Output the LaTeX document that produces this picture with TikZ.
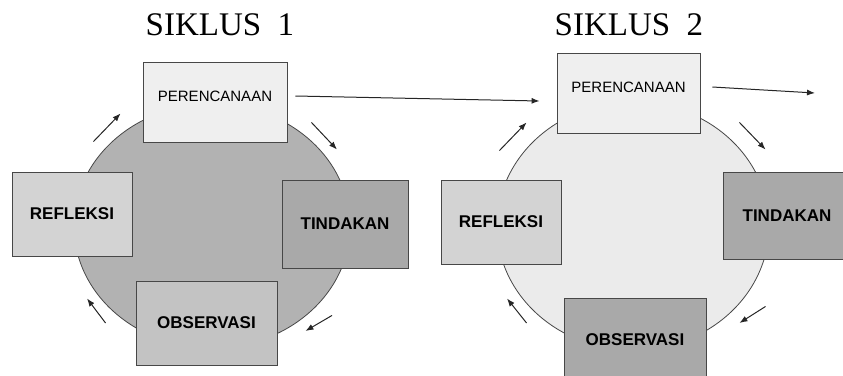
\documentclass[tikz,border=0pt]{standalone}
\usepackage{fontspec}
\setmainfont{Liberation Serif}
\setsansfont{Liberation Sans}
\usetikzlibrary{arrows.meta}

\definecolor{boxline}{HTML}{474747}
\definecolor{plancol}{HTML}{EFEFEF}
\definecolor{reflcol}{HTML}{D3D3D3}
\definecolor{tindcol}{HTML}{A9A9A9}
\definecolor{obscol}{HTML}{C3C3C3}
\definecolor{ringone}{HTML}{B2B2B2}
\definecolor{ringtwo}{HTML}{EBEBEB}

\begin{document}
\begin{tikzpicture}[x=1pt, y=-1pt,
    box/.style={draw=boxline, line width=0.9pt, inner sep=0pt, font=\sffamily\bfseries\fontsize{17}{20}\selectfont},
    planlabel/.style={font=\sffamily\fontsize{15}{18}\selectfont, yshift=6pt},
    flow/.style={-{Latex[length=8pt,width=6pt]}, line width=1pt, draw=black!85}]
    \useasboundingbox (0,0) rectangle (843,375);
    % siklus 1
    \node[font=\fontsize{33}{36}\selectfont] (title1) at (220,25) {SIKLUS~~1};
    \filldraw[draw=boxline, fill=ringone, line width=0.8pt] (212,226) ellipse [x radius=138pt, y radius=122pt];
    \node[box, fill=plancol, minimum width=144pt, minimum height=80pt, label={[planlabel]center:PERENCANAAN}] (plan1) at (215,102) {};
    \node[box, fill=reflcol, minimum width=120pt, minimum height=84pt] (refl1) at (72,214) {REFLEKSI};
    \node[box, fill=tindcol, minimum width=126pt, minimum height=88pt] (tind1) at (345,224) {TINDAKAN};
    \node[box, fill=obscol, minimum width=141pt, minimum height=84pt] (obs1) at (206.5,323) {OBSERVASI};
    \draw[flow] ([xshift=-39pt,yshift=30pt]refl1.north east) -- ([xshift=-22pt,yshift=29pt]plan1.south west);
    \draw[flow] ([xshift=24pt,yshift=20pt]plan1.south east) -- ([xshift=-8pt,yshift=30pt]tind1.north);
    \draw[flow] ([xshift=-13pt,yshift=-47pt]tind1.south) -- ([xshift=28pt,yshift=-8pt]obs1.east);
    \draw[flow] ([xshift=-30pt]obs1.west) -- ([xshift=15pt,yshift=-42pt]refl1.south);
    % siklus 2
    \node[font=\fontsize{33}{36}\selectfont] (title2) at (629,25) {SIKLUS~~2};
    \filldraw[draw=boxline, fill=ringtwo, line width=0.8pt] (633,226) ellipse [x radius=136pt, y radius=124pt];
    \node[box, fill=plancol, minimum width=143pt, minimum height=80pt, label={[planlabel]center:PERENCANAAN}] (plan2) at (628.5,93) {};
    \node[box, fill=reflcol, minimum width=120pt, minimum height=84pt] (refl2) at (501,222) {REFLEKSI};
    \node[box, fill=tindcol, minimum width=128pt, minimum height=87pt] (tind2) at (787,215.5) {TINDAKAN};
    \node[box, fill=tindcol, minimum width=142pt, minimum height=84pt] (obs2) at (635,340) {OBSERVASI};
    \draw[flow] ([xshift=-62pt,yshift=29pt]refl2.north east) -- ([xshift=-30pt,yshift=11pt]plan2.south west);
    \draw[flow] ([xshift=39pt,yshift=11pt]plan2.south east) -- ([xshift=43pt,yshift=22pt]tind2.north west);
    \draw[flow] ([xshift=43pt,yshift=-47pt]tind2.south west) -- ([xshift=33pt,yshift=17pt]obs2.east);
    \draw[flow] ([xshift=-37pt,yshift=17pt]obs2.west) -- ([xshift=6pt,yshift=-34pt]refl2.south);
    % from one cycle to the next
    \coordinate (next) at (815,93);
    \draw[flow] ([xshift=8pt,yshift=6pt]plan1.east) -- ([xshift=-17pt,yshift=-8pt]plan2.west);
    \draw[flow] ([xshift=12pt,yshift=6pt]plan2.east) -- (next);
\end{tikzpicture}
\end{document}
